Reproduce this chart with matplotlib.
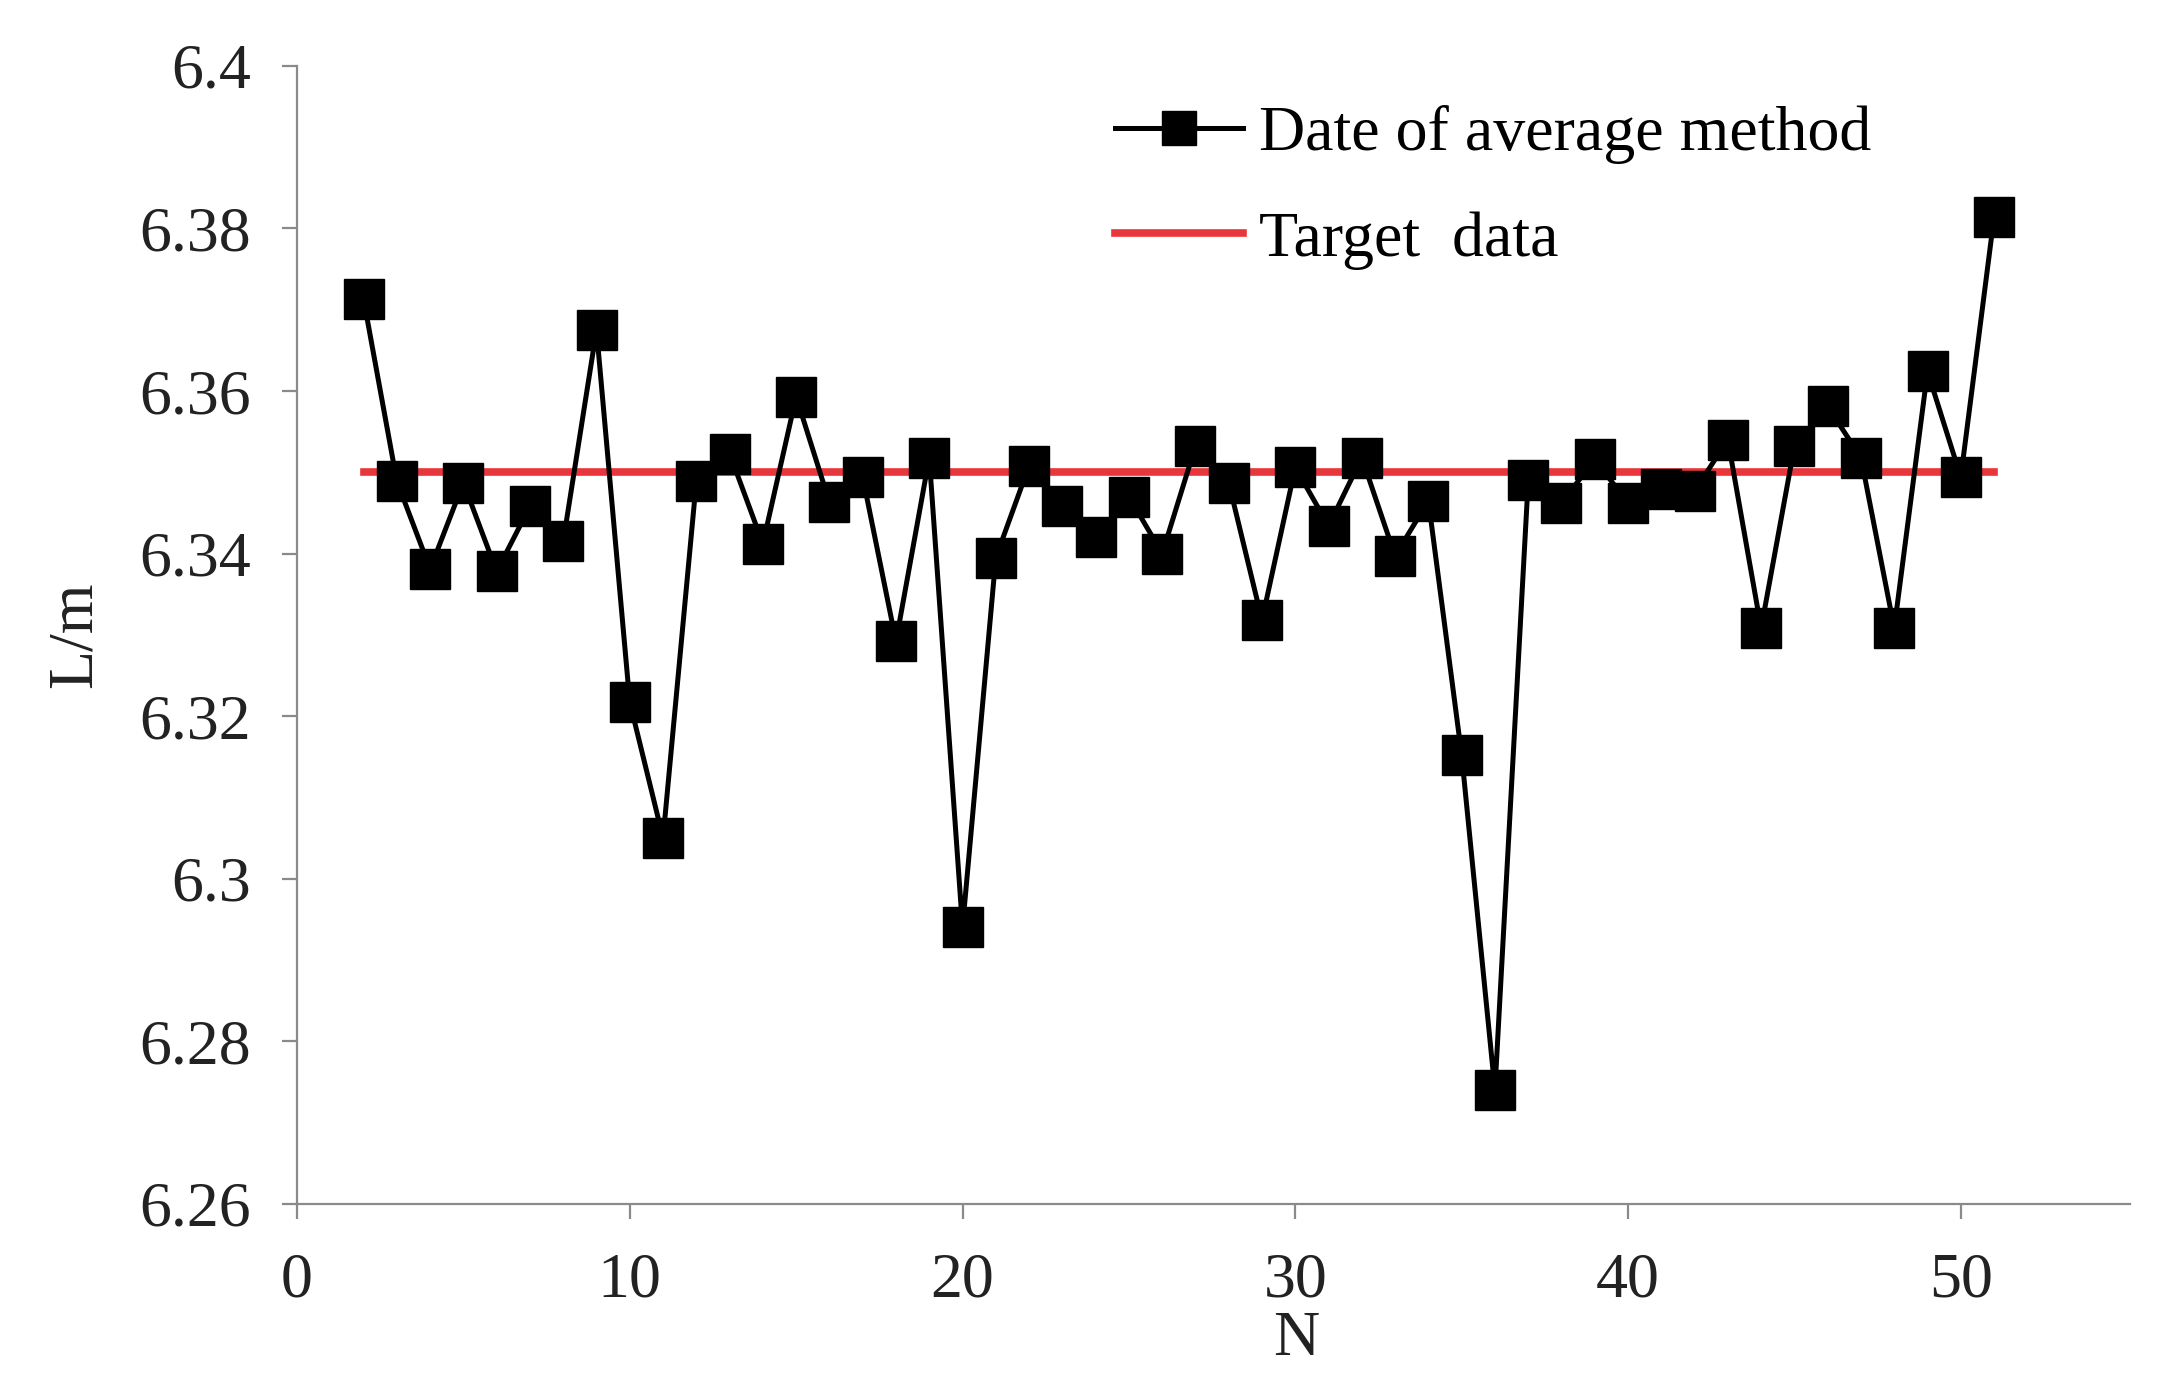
import matplotlib
matplotlib.use('Agg')
from matplotlib import pyplot as plt

# data
n = list(range(2, 52))
avg_method = [6.3713, 6.3489, 6.3381, 6.3487, 6.3378, 6.3458, 6.3415, 6.3675, 6.3217, 6.3050,
              6.3489, 6.3523, 6.3412, 6.3593, 6.3463, 6.3494, 6.3292, 6.3518, 6.2940, 6.3395,
              6.3508, 6.3458, 6.3420, 6.3470, 6.3400, 6.3532, 6.3487, 6.3318, 6.3506, 6.3434,
              6.3518, 6.3397, 6.3465, 6.3152, 6.2740, 6.3490, 6.3462, 6.3516, 6.3462, 6.3479,
              6.3477, 6.3540, 6.3308, 6.3532, 6.3581, 6.3518, 6.3308, 6.3624, 6.3494, 6.3814]
target = [6.35] * len(n)
y_ticks = [6.26, 6.28, 6.30, 6.32, 6.34, 6.36, 6.38, 6.40]
y_tick_labels = ['6.26', '6.28', '6.3', '6.32', '6.34', '6.36', '6.38', '6.4']
x_ticks = [0, 10, 20, 30, 40, 50]

plt.rcParams['font.family'] = ['Liberation Serif', 'DejaVu Serif']

fig = plt.figure(figsize=(21.84, 13.74), dpi=100)
ax = fig.add_axes([0.136, 0.124, 0.8395, 0.828])

ax.plot(n, avg_method, color='black', linewidth=3.6, marker='s', markersize=29,
        label='Date of average method', zorder=3)
ax.plot(n, target, color='#e8363c', linewidth=5.5, label='Target  data', zorder=2)

ax.set_xlim(0, 55.1)
ax.set_ylim(6.26, 6.40)
ax.set_yticks(y_ticks)
ax.set_yticklabels(y_tick_labels)
ax.set_xticks(x_ticks)

# only left and bottom axis lines, grey like the original
for side in ['top', 'right']:
    ax.spines[side].set_visible(False)
for side in ['left', 'bottom']:
    ax.spines[side].set_color('#8a8a8a')
    ax.spines[side].set_linewidth(1.6)
ax.tick_params(axis='both', direction='out', length=11, width=1.6, color='#8a8a8a',
               labelsize=46, labelcolor='#222222')
ax.tick_params(axis='y', pad=22)
ax.tick_params(axis='x', pad=24)

ax.set_xlabel('N', fontsize=46, color='#222222')
ax.xaxis.set_label_coords(0.545, -0.094)
ax.set_ylabel('L/m', fontsize=46, labelpad=25, color='#222222')

ax.legend(loc='upper left', bbox_to_anchor=(0.415, 1.016), frameon=False, fontsize=46,
          handlelength=2.0, handletextpad=0.25, labelspacing=0.73, markerscale=0.85)

plt.savefig('out.png', dpi=100)
